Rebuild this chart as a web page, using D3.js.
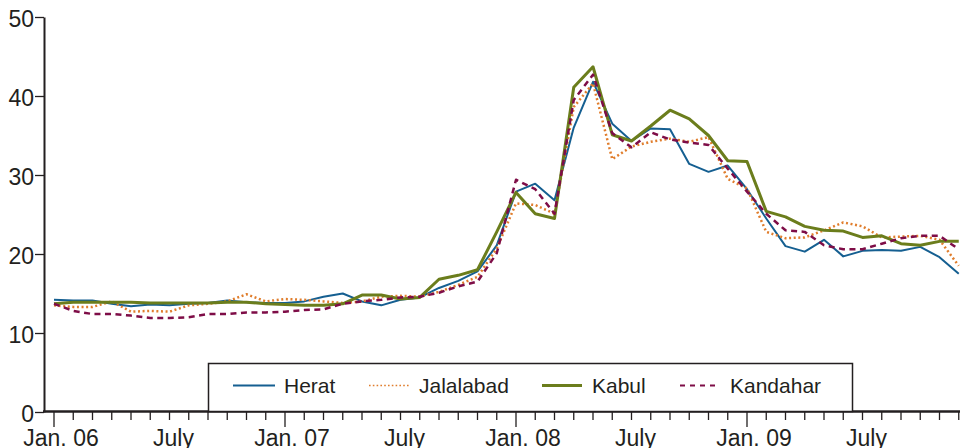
<!DOCTYPE html>
<html>
<head>
<meta charset="utf-8">
<script src="https://cdn.jsdelivr.net/npm/d3@7.9.0/dist/d3.min.js"></script>
<style>
  html, body { margin: 0; padding: 0; background: #fff; }
  svg { display: block; font-family: "Liberation Sans", Arial, Helvetica, sans-serif; }
  text { fill: #231f20; }
</style>
</head>
<body>
<svg id="chart" width="960" height="448"></svg>
<script>
// monthly values, Jan 2006 .. Dec 2009
const herat = [14.2, 14.1, 14.1, 13.7, 13.4, 13.6, 13.5, 13.7, 13.8, 14.1, 13.9, 13.8,
  13.8, 14.0, 14.6, 15.0, 14.0, 13.5, 14.2, 14.5, 15.7, 16.6, 17.8, 21.1,
  27.9, 28.9, 26.8, 36.0, 41.8, 36.5, 34.3, 35.9, 35.8, 31.4, 30.4, 31.2,
  28.2, 24.5, 21.0, 20.3, 21.8, 19.7, 20.4, 20.5, 20.4, 20.9, 19.6, 17.5];
const jalalabad = [13.5, 13.3, 13.3, 14.0, 12.7, 12.8, 12.7, 13.5, 13.7, 14.0, 14.9, 14.0,
  14.3, 14.2, 14.0, 13.8, 14.0, 14.6, 14.7, 14.6, 15.2, 16.1, 17.1, 20.7,
  26.4, 26.2, 25.1, 38.6, 41.6, 32.0, 33.6, 34.2, 34.6, 34.2, 34.8, 29.5,
  28.3, 22.8, 22.0, 22.1, 23.0, 24.0, 23.5, 22.1, 22.2, 22.3, 21.8, 18.5];
const kabul = [13.7, 13.9, 13.9, 13.9, 13.9, 13.8, 13.8, 13.8, 13.8, 13.9, 13.9, 13.7,
  13.6, 13.5, 13.5, 13.7, 14.8, 14.8, 14.3, 14.5, 16.8, 17.3, 18.0, 22.8,
  27.8, 25.1, 24.5, 41.1, 43.7, 35.1, 34.3, 36.2, 38.2, 37.1, 35.0, 31.8,
  31.7, 25.4, 24.7, 23.5, 23.0, 22.9, 22.1, 22.3, 21.3, 21.1, 21.6, 21.6];
const kandahar = [13.7, 12.8, 12.4, 12.4, 12.2, 11.9, 11.9, 12.0, 12.4, 12.4, 12.6, 12.6,
  12.7, 12.9, 13.0, 13.7, 14.0, 14.2, 14.5, 14.6, 15.1, 15.9, 16.5, 20.1,
  29.4, 28.2, 25.1, 39.5, 42.7, 35.3, 33.5, 35.4, 34.5, 34.1, 33.8, 30.8,
  27.9, 25.1, 23.0, 22.8, 21.1, 20.6, 20.6, 21.3, 22.0, 22.3, 22.3, 20.6];

const cities = ["Herat", "Jalalabad", "Kabul", "Kandahar"];
const yTicks = [0, 10, 20, 30, 40, 50];
// month index -> label
const xLabels = [[0, "Jan. 06"], [6, "July"], [12, "Jan. 07"], [18, "July"],
  [24, "Jan. 08"], [30, "July"], [36, "Jan. 09"], [42, "July"]];

const series = [
  { name: "Herat", values: herat, color: "#155f91", width: 2, dash: null, legDash: null },
  { name: "Jalalabad", values: jalalabad, color: "#e07d2c", width: 2.5, dash: "2,2.6", legDash: "1.6,2.2" },
  { name: "Kabul", values: kabul, color: "#6b7d1c", width: 3, dash: null, legDash: null },
  { name: "Kandahar", values: kandahar, color: "#7e0d47", width: 2.5, dash: "6,4.5", legDash: "5,5" }
];

const svg = d3.select('#chart');
const ink = "#231f20";

const x = d3.scaleLinear().domain([0, 47]).range([54, 958.75]);
const y = d3.scaleLinear().domain([0, 50]).range([412, 17]);

// y axis
const yAxis = svg.append('g')
  .attr('transform', 'translate(44,0)')
  .call(d3.axisLeft(y).tickValues(yTicks).tickSize(9).tickSizeOuter(0).tickPadding(1));
yAxis.select('.domain').attr('stroke', ink).attr('stroke-width', 2);
yAxis.selectAll('.tick line').attr('stroke', ink).attr('stroke-width', 1.3);
yAxis.selectAll('.tick text')
  .attr('font-size', 23)
  .attr('font-family', '"Liberation Sans", Arial, sans-serif')
  .attr('dy', '0.42em')
  .style('fill', ink);

// x axis: monthly ticks, long ticks in January
const months = d3.range(0, 48);
const xg = svg.append('g');
xg.selectAll('line.tick')
  .data(months)
  .join('line')
  .attr('x1', d => x(d)).attr('x2', d => x(d))
  .attr('y1', 412).attr('y2', d => d % 12 === 0 ? 427 : 420)
  .attr('stroke', ink).attr('stroke-width', 1.3);
xg.append('line')
  .attr('x1', 43).attr('x2', 960).attr('y1', 411.5).attr('y2', 411.5)
  .attr('stroke', ink).attr('stroke-width', 2.4);
xg.selectAll('text')
  .data(xLabels)
  .join('text')
  .attr('x', d => x(d[0]) + (d[1] === "July" ? 4 : 7))
  .attr('y', 446)
  .attr('text-anchor', 'middle')
  .attr('font-size', 23)
  .text(d => d[1]);

// lines
const line = d3.line().x((d, i) => x(i)).y(d => y(d));
svg.append('g')
  .selectAll('path')
  .data(series)
  .join('path')
  .attr('d', d => line(d.values))
  .attr('fill', 'none')
  .attr('stroke', d => d.color)
  .attr('stroke-width', d => d.width)
  .attr('stroke-dasharray', d => d.dash)
  .attr('stroke-linejoin', 'round');

// legend
const legend = svg.append('g');
legend.append('rect')
  .attr('x', 208.5).attr('y', 363.5).attr('width', 644).attr('height', 48)
  .attr('fill', '#fff').attr('stroke', ink).attr('stroke-width', 1.5);
const legX = [233, 369, 542, 680];
const items = legend.selectAll('g.item')
  .data(series)
  .join('g')
  .attr('transform', (d, i) => `translate(${legX[i]},0)`);
items.append('line')
  .attr('x1', 0).attr('x2', (d, i) => i === 0 ? 42 : 40)
  .attr('y1', 385.5).attr('y2', 385.5)
  .attr('stroke', d => d.color)
  .attr('stroke-width', d => d.name === "Jalalabad" ? 1.6 : (d.name === "Kabul" ? 3 : 2.2))
  .attr('stroke-dasharray', d => d.legDash);
items.append('text')
  .attr('x', (d, i) => i === 0 ? 51 : 50)
  .attr('y', 393)
  .attr('font-size', 21)
  .text((d, i) => cities[i]);
</script>
</body>
</html>
